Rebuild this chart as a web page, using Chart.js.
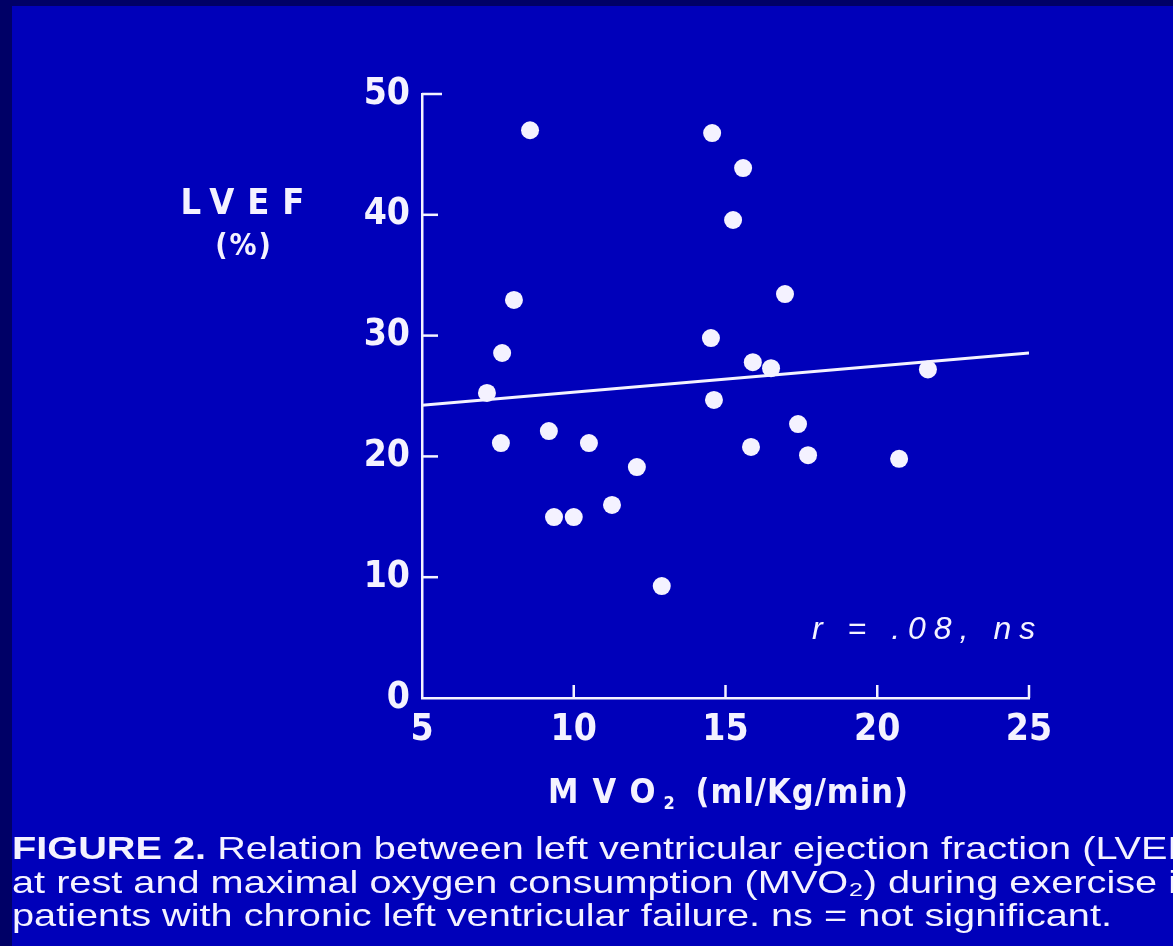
<!DOCTYPE html>
<html>
<head>
<meta charset="utf-8">
<script src="https://cdn.jsdelivr.net/npm/chart.js@4/dist/chart.umd.min.js"></script>
<style>
  html, body { margin: 0; padding: 0; background: #000066; }
  #wrap { position: relative; width: 1173px; height: 946px; }
</style>
</head>
<body>
<div id="wrap"><canvas id="myChart" width="1173" height="946"></canvas></div>
<script>
// MVO2 (ml/Kg/min) and LVEF (%) for each patient
const mvo2 = [7.14, 7.64, 7.6, 8.03, 8.56, 9.18, 9.35, 10.0, 10.5, 11.26, 12.08, 12.9,
  14.56, 15.58, 15.25, 14.52, 14.62, 16.96, 15.9, 16.5, 15.84, 17.39, 17.72, 21.67, 20.72];
const lvef = [25.25, 28.56, 21.1, 32.95, 47.0, 22.1, 14.98, 14.98, 21.1, 15.98, 19.12, 9.27,
  46.77, 43.87, 39.57, 29.8, 24.67, 33.44, 27.8, 27.3, 20.78, 22.68, 20.1, 27.2, 19.8];

// regression line end points
const fitX = [5, 25];
const fitY = [24.23, 28.55];

const xTicks = [5, 10, 15, 20, 25];
const yTicks = [0, 10, 20, 30, 40, 50];

const captionLines = [
  ["FIGURE 2.", " Relation between left ventricular ejection fraction (LVEF)"],
  ["", "at rest and maximal oxygen consumption (MVO\u2082) during exercise in"],
  ["", "patients with chronic left ventricular failure. ns = not significant."],
];

const TICK_FONT = "'Liberation Sans Narrow', 'DejaVu Sans Condensed', 'Roboto Condensed', sans-serif";
const CAP_FONT = "'Liberation Sans', Arial, sans-serif";
const WHITE = "#f4f2ff";

const slideDecor = {
  id: "slideDecor",
  beforeDraw(chart) {
    const ctx = chart.ctx;
    ctx.save();
    ctx.fillStyle = "#000066";
    ctx.fillRect(0, 0, chart.width, chart.height);
    ctx.fillStyle = "#0000ba";
    ctx.fillRect(12, 6, chart.width - 12, chart.height - 6);
    ctx.restore();
  },
  afterDraw(chart) {
    const ctx = chart.ctx;
    const xs = chart.scales.x, ys = chart.scales.y;
    ctx.save();
    ctx.strokeStyle = WHITE;
    ctx.lineWidth = 2.5;
    // inward tick marks
    yTicks.forEach((v) => {
      if (v === 0) return;
      const py = ys.getPixelForValue(v);
      ctx.beginPath();
      ctx.moveTo(xs.left, py);
      ctx.lineTo(xs.left + (v === 50 ? 20 : 16), py);
      ctx.stroke();
    });
    xTicks.forEach((v) => {
      if (v === 5) return;
      const px = xs.getPixelForValue(v);
      ctx.beginPath();
      ctx.moveTo(px, ys.bottom);
      ctx.lineTo(px, ys.bottom - 13);
      ctx.stroke();
    });

    ctx.fillStyle = WHITE;
    // y axis title
    ctx.font = "bold 36px " + TICK_FONT;
    ctx.textAlign = "center";
    ctx.textBaseline = "alphabetic";
    ctx.letterSpacing = "13px";
    ctx.fillText("LVEF", 249, 214);
    ctx.letterSpacing = "2px";
    ctx.font = "bold 30px " + TICK_FONT;
    ctx.fillText("(%)", 244, 255);

    // x axis title
    ctx.font = "bold 34px " + TICK_FONT;
    ctx.textAlign = "left";
    ctx.letterSpacing = "14px";
    let x = 548;
    const base = 803;
    ctx.fillText("MVO", x, base);
    x += ctx.measureText("MVO").width - 6;
    ctx.letterSpacing = "0px";
    ctx.font = "bold 18px " + TICK_FONT;
    ctx.fillText("2", x, base + 6);
    x += 32;
    ctx.font = "bold 34px " + TICK_FONT;
    ctx.letterSpacing = "1px";
    ctx.fillText("(ml/Kg/min)", x, base);

    // correlation note
    ctx.font = "italic 32px " + CAP_FONT;
    ctx.letterSpacing = "8px";
    ctx.fillText("r = .08, ns", 812, 639);

    // caption (the slide stretches it horizontally)
    ctx.letterSpacing = "0px";
    ctx.font = "32px " + CAP_FONT;
    const w3 = ctx.measureText(captionLines[2][1]).width;
    const sx = 1100 / w3;
    const bases = [859, 893, 926];
    captionLines.forEach((parts, i) => {
      ctx.save();
      ctx.translate(12, bases[i]);
      ctx.scale(sx, 1);
      let cx = 0;
      if (parts[0]) {
        ctx.font = "bold 32px " + CAP_FONT;
        ctx.fillText(parts[0], cx, 0);
        cx += ctx.measureText(parts[0]).width;
      }
      ctx.font = "32px " + CAP_FONT;
      ctx.fillText(parts[1], cx, 0);
      ctx.restore();
    });
    ctx.restore();
  },
};

const ctx = document.getElementById("myChart");
new Chart(ctx, {
  type: "scatter",
  data: {
    datasets: [
      {
        label: "Patients",
        data: mvo2.map((v, i) => ({ x: v, y: lvef[i] })),
        backgroundColor: WHITE,
        borderColor: WHITE,
        borderWidth: 0,
        pointRadius: 9,
        pointHoverRadius: 9,
      },
      {
        type: "line",
        label: "Fit",
        data: fitX.map((v, i) => ({ x: v, y: fitY[i] })),
        borderColor: WHITE,
        borderWidth: 3,
        pointRadius: 0,
        fill: false,
      },
    ],
  },
  options: {
    responsive: false,
    animation: false,
    events: [],
    layout: { padding: { left: 0, right: 144, top: 94, bottom: 0 } },
    plugins: { legend: { display: false }, tooltip: { enabled: false } },
    scales: {
      x: {
        type: "linear",
        min: 5,
        max: 25,
        afterFit: (scale) => { scale.height = 946 - 698; },
        afterBuildTicks: (scale) => { scale.ticks = xTicks.map((v) => ({ value: v })); },
        grid: { display: false },
        border: { display: true, color: WHITE, width: 2.5 },
        ticks: {
          color: WHITE,
          padding: 2,
          font: { family: TICK_FONT, size: 37, weight: "bold" },
        },
      },
      y: {
        type: "linear",
        min: 0,
        max: 50,
        afterFit: (scale) => { scale.width = 422; },
        afterBuildTicks: (scale) => { scale.ticks = yTicks.map((v) => ({ value: v })); },
        grid: { display: false },
        border: { display: true, color: WHITE, width: 2.5 },
        ticks: {
          color: WHITE,
          padding: 4,
          font: { family: TICK_FONT, size: 37, weight: "bold" },
        },
      },
    },
  },
  plugins: [slideDecor],
});
</script>
</body>
</html>
